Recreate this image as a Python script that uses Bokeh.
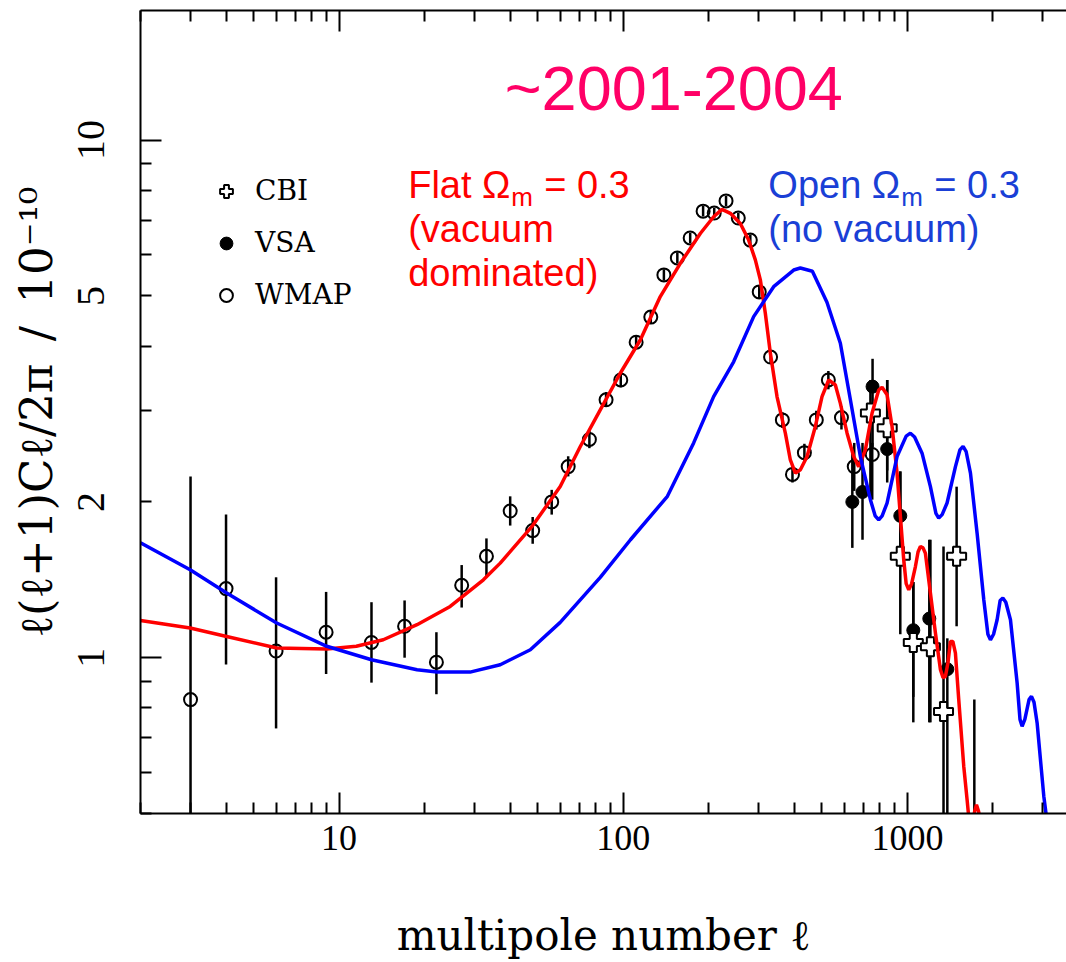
import math
from bokeh.plotting import figure
from bokeh.models import (FixedTicker, LogAxis, CustomJSTickFormatter, Label,
                          Legend, LegendItem, ColumnDataSource)
from bokeh.embed import file_html
from bokeh.resources import INLINE

# ---------------- data ----------------
wmap_l = [3, 4, 6, 9, 13, 17, 22, 27, 33, 40, 48, 56, 64, 76, 87, 98, 111, 125, 139, 155,
          172, 191, 209, 230, 254, 280, 301, 330, 363, 394, 434, 478, 527, 586, 650, 752]
wmap_v = [0.83, 1.36, 1.03, 1.12, 1.07, 1.15, 0.98, 1.38, 1.57, 1.92, 1.76, 2.00, 2.34, 2.64,
          3.15, 3.44, 4.07, 4.55, 5.49, 5.92, 6.47, 7.29, 7.23, 7.63, 7.07, 6.41, 5.09, 3.81,
          2.88, 2.26, 2.49, 2.88, 3.44, 2.91, 2.34, 2.47]
wmap_lo = [0.40, 0.97, 0.73, 0.93, 0.895, 1.00, 0.85, 1.25, 1.43, 1.80, 1.66, 1.89, 2.24, 2.54,
           3.05, 3.33, 3.95, 4.42, 5.35, 5.78, 6.32, 7.12, 7.06, 7.45, 6.90, 6.25, 4.95, 3.70,
           2.78, 2.18, 2.40, 2.76, 3.30, 2.76, 2.10, 2.02]
wmap_hi = [2.24, 1.89, 1.43, 1.34, 1.28, 1.29, 1.12, 1.51, 1.70, 2.05, 1.87, 2.11, 2.45, 2.75,
           3.26, 3.55, 4.19, 4.68, 5.63, 6.07, 6.62, 7.46, 7.40, 7.81, 7.24, 6.57, 5.23, 3.93,
           2.98, 2.35, 2.59, 3.00, 3.58, 3.06, 2.60, 2.60]

vsa_l = [640, 695, 754, 849, 944, 1049, 1194, 1382]
vsa_v = [2.00, 2.09, 3.34, 2.53, 1.88, 1.13, 1.19, 0.95]
vsa_lo = [1.63, 1.69, 2.55, 2.18, 1.55, 0.84, 0.75, 0.40]
vsa_hi = [2.52, 2.60, 3.78, 3.44, 2.29, 1.40, 1.69, 1.09]

cbi_l = [741, 849, 944, 1049, 1205, 1340, 1490, 1720]
cbi_v = [2.97, 2.78, 1.57, 1.07, 1.05, 0.787, 1.57, 0.45]
cbi_lo = [2.02, 2.30, 1.11, 0.75, 0.75, 0.40, 1.15, 0.20]
cbi_hi = [3.44, 3.44, 2.29, 1.40, 1.69, 1.64, 2.14, 0.83]

flat_l = [2, 2.99, 4.02, 6.03, 9.05, 11.5, 14.3, 18.8, 24.6, 32.2, 36.9, 48, 60, 70.6, 83,
          97.6, 114.8, 135, 158.8, 186.7, 208, 222.6, 238.2, 258.2, 276.3, 291.6, 303.7, 316.2,
          329.3, 347.6, 371.9, 387.3, 403.4, 420.1, 443.5, 474.3, 500.6, 528.4, 557.8, 580.8,
          613.3, 647.1, 674, 711.3, 750.8, 792.5, 814.3, 848, 883.1, 919.6, 944.8, 970.7,
          990, 1010.9, 1035, 1067.1, 1090, 1111.1, 1135, 1157, 1204.9, 1254.9, 1307, 1335,
          1361, 1390, 1417, 1445, 1475.7, 1516, 1578.7, 1622, 1645, 1690, 1725, 1750, 1780,
          1810, 1860]
flat_v = [1.18, 1.141, 1.099, 1.044, 1.039, 1.052, 1.083, 1.158, 1.256, 1.414, 1.523, 1.80,
          2.142, 2.559, 3.012, 3.545, 4.11, 4.985, 5.78, 6.60, 7.11, 7.35, 7.22, 6.90, 6.41,
          5.87, 5.37, 4.63, 3.88, 3.195, 2.715, 2.41, 2.273, 2.307, 2.447, 2.797, 3.195, 3.44,
          3.365, 3.10, 2.715, 2.447, 2.34, 2.52, 2.967, 3.29, 3.33, 3.22, 2.797, 2.273, 1.875,
          1.546, 1.39, 1.353, 1.39, 1.50, 1.60, 1.64, 1.63, 1.592, 1.333, 1.116, 0.948, 0.915,
          0.920, 0.98, 1.075, 1.075, 1.021, 0.830, 0.617, 0.532, 0.49, 0.47, 0.505, 0.52, 0.505,
          0.48, 0.43]

open_l = [2, 2.99, 4.02, 6.03, 9.05, 13.0, 18.8, 22.1, 28.9, 36.9, 47.1, 60, 83, 106, 143,
          176.9, 208, 244.6, 287.7, 338.3, 397.9, 420, 463, 521, 580.8, 630, 683, 741, 770,
          792.5, 815, 848, 919.6, 990, 1024.5, 1060, 1126, 1205, 1260, 1289, 1325, 1379, 1476,
          1530, 1570, 1610, 1667, 1759, 1857, 1920, 1960, 2010, 2069, 2120, 2167, 2220, 2305,
          2433, 2490, 2533, 2590, 2680, 2733, 2790, 2861, 3020, 3120]
open_v = [1.667, 1.479, 1.333, 1.167, 1.052, 0.991, 0.948, 0.938, 0.938, 0.969, 1.036, 1.17,
          1.43, 1.69, 2.05, 2.60, 3.195, 3.73, 4.56, 5.21, 5.61, 5.66, 5.58, 4.86, 4.05, 3.15,
          2.447, 2.02, 1.88, 1.847, 1.88, 1.99, 2.447, 2.68, 2.715, 2.67, 2.484, 2.14, 1.90,
          1.861, 1.89, 1.99, 2.34, 2.52, 2.56, 2.50, 2.273, 1.74, 1.294, 1.11, 1.083, 1.11,
          1.184, 1.29, 1.304, 1.28, 1.184, 0.894, 0.76, 0.737, 0.76, 0.83, 0.842, 0.82, 0.748,
          0.540, 0.47]

x_major = [10, 100, 1000]
x_minor = [2, 3, 4, 5, 6, 7, 8, 9, 20, 30, 40, 50, 60, 70, 80, 90,
           200, 300, 400, 500, 600, 700, 800, 900, 2000, 3000]
y_major = [1, 10]
y_minor = [0.5, 0.6, 0.7, 0.8, 0.9, 2, 3, 4, 5, 6, 7, 8, 9]
y_labelled = [1, 2, 5, 10]

# ---------------- figure ----------------
p = figure(width=1066, height=962, x_axis_type="log", y_axis_type="log",
           x_range=(2, 3630), y_range=(0.5, 17.8),
           output_backend="svg", toolbar_location=None,
           min_border_left=140, min_border_right=0, min_border_top=10, min_border_bottom=149)
p.xgrid.visible = False
p.ygrid.visible = False
p.outline_line_color = None
p.background_fill_color = "white"
p.border_fill_color = "white"

fmt = CustomJSTickFormatter(code="return tick.toString()")
blank = CustomJSTickFormatter(code="return ''")

tick_style = dict(axis_line_width=2, major_tick_line_width=2, minor_tick_line_width=2,
                  major_tick_in=21, major_tick_out=0, minor_tick_in=11, minor_tick_out=0)

xa = p.xaxis[0]
xa.ticker = FixedTicker(ticks=x_major, minor_ticks=x_minor)
xa.formatter = fmt
for k, v in tick_style.items():
    setattr(xa, k, v)
xa.major_label_text_font = "Liberation Serif"
xa.major_label_text_font_size = "36px"
xa.major_label_text_color = "black"
xa.major_label_standoff = 12
xa.axis_label = "multipole number ℓ"
xa.axis_label_text_font = "DejaVu Serif"
xa.axis_label_text_font_style = "normal"
xa.axis_label_text_font_size = "42px"
xa.axis_label_text_color = "black"
xa.axis_label_standoff = 58

# inner left axis: line + long ticks at the decades, minor ticks, no labels
ya = p.yaxis[0]
ya.ticker = FixedTicker(ticks=y_major, minor_ticks=y_minor)
ya.formatter = blank
for k, v in tick_style.items():
    setattr(ya, k, v)
ya.major_label_text_font_size = "0px"
ya.major_label_standoff = 0

# outer left axis: the labels 1, 2, 5, 10 and the axis title
yl = LogAxis(ticker=FixedTicker(ticks=y_labelled, minor_ticks=[]), formatter=fmt,
             axis_line_color=None, major_tick_in=0, major_tick_out=0,
             minor_tick_in=0, minor_tick_out=0, major_tick_line_color=None,
             major_label_text_font="Liberation Serif", major_label_text_font_size="40px",
             major_label_text_color="black", major_label_orientation="parallel",
             major_label_standoff=36,
             axis_label="ℓ(ℓ+1)Cℓ/2π\u2002/\u200210⁻¹⁰", axis_label_text_font="DejaVu Serif",
             axis_label_text_font_style="normal", axis_label_text_font_size="45px",
             axis_label_text_color="black", axis_label_standoff=13)
p.add_layout(yl, "left")

top = LogAxis(ticker=FixedTicker(ticks=x_major, minor_ticks=x_minor), formatter=blank,
              major_label_text_font_size="0px", major_label_standoff=0, **tick_style)
p.add_layout(top, "above")

# ---------------- data marks ----------------
wsrc = ColumnDataSource(dict(l=wmap_l, v=wmap_v, lo=wmap_lo, hi=wmap_hi))
vsrc = ColumnDataSource(dict(l=vsa_l, v=vsa_v, lo=vsa_lo, hi=vsa_hi))
csrc = ColumnDataSource(dict(l=cbi_l, v=cbi_v, lo=cbi_lo, hi=cbi_hi))

for src in (wsrc, vsrc, csrc):
    p.segment(x0="l", y0="lo", x1="l", y1="hi", source=src, line_color="black", line_width=2.5)

r_wmap = p.scatter("l", "v", source=wsrc, marker="circle", size=13,
                   line_color="black", line_width=2, fill_alpha=0)
r_vsa = p.scatter("l", "v", source=vsrc, marker="circle", size=13,
                  line_color="black", line_width=1, fill_color="black")
r_cbi = p.scatter("l", "v", source=csrc, marker="plus", size=19,
                  line_color="black", line_width=2, fill_color="white")

p.line(flat_l, flat_v, line_color="#FF0000", line_width=3.5)
p.line(open_l, open_v, line_color="#0000FF", line_width=3.5)

# ---------------- legend ----------------
legend = Legend(items=[LegendItem(label="CBI", renderers=[r_cbi]),
                       LegendItem(label="VSA", renderers=[r_vsa]),
                       LegendItem(label="WMAP", renderers=[r_wmap])],
                location=(70, 502), orientation="vertical",
                glyph_width=32, glyph_height=32, label_standoff=13, spacing=19,
                padding=0, margin=0, label_text_font="DejaVu Serif",
                label_text_font_size="28px", label_text_color="black",
                border_line_alpha=0, background_fill_alpha=0)
p.add_layout(legend, "center")

# ---------------- annotations ----------------
p.add_layout(Label(x=150.7, y=11.33, y_offset=24, text="~2001-2004", text_align="center",
                   text_baseline="alphabetic", text_font="Liberation Sans",
                   text_font_size="63px", text_color="#FF0066"))

red = "#FF0000"
blue = "#1A3FD6"
fs = "38px"
up = 13
for (x0, col, word, w1) in ((17.5, red, "Flat Ω", 103), (324, blue, "Open Ω", 133)):
    p.add_layout(Label(x=x0, y=7.73, y_offset=up, text=word, text_font="Liberation Sans",
                       text_font_size=fs, text_color=col, text_baseline="alphabetic"))
    p.add_layout(Label(x=x0, y=7.73, x_offset=w1, y_offset=1, text="m",
                       text_font="Liberation Sans", text_font_size="26px",
                       text_color=col, text_baseline="alphabetic"))
    p.add_layout(Label(x=x0, y=7.73, x_offset=w1 + 33, y_offset=up, text="= 0.3",
                       text_font="Liberation Sans", text_font_size=fs,
                       text_color=col, text_baseline="alphabetic"))

p.add_layout(Label(x=17.5, y=6.36, y_offset=up, text="(vacuum", text_font="Liberation Sans",
                   text_font_size=fs, text_color=red, text_baseline="alphabetic"))
p.add_layout(Label(x=17.5, y=5.23, y_offset=up, text="dominated)", text_font="Liberation Sans",
                   text_font_size=fs, text_color=red, text_baseline="alphabetic"))
p.add_layout(Label(x=324, y=6.36, y_offset=up, text="(no vacuum)", text_font="Liberation Sans",
                   text_font_size=fs, text_color=blue, text_baseline="alphabetic"))

open("out.html", "w").write(file_html(p, INLINE))
